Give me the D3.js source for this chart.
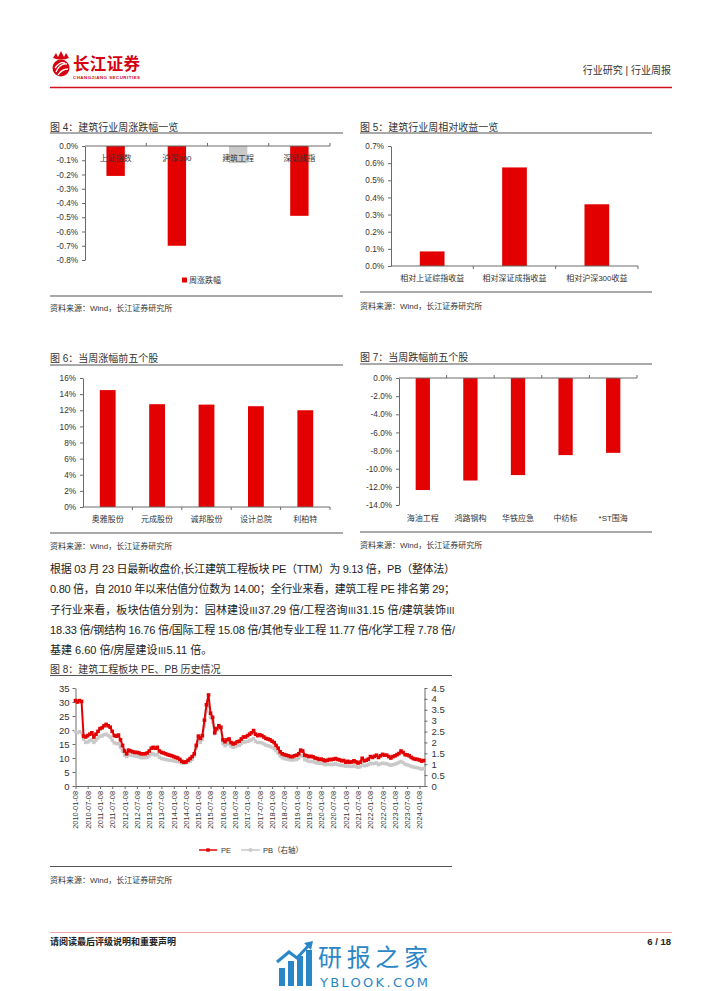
<!DOCTYPE html>
<html><head><meta charset="utf-8">
<script src="https://cdn.jsdelivr.net/npm/d3@7"></script>
<style>
html,body{margin:0;padding:0;background:#fff;}
svg{display:block;font-family:"Liberation Sans",Arial,"Noto Sans CJK SC",sans-serif;}
</style></head><body>
<svg id="page" width="702" height="991"></svg>
<script>
// ---------------- DATA ----------------
const fig4Cats = ["上证指数","沪深300","建筑工程","深证成指"];
const fig4Vals = [-0.21,-0.70,-0.12,-0.49];
const fig4Ticks = [0,-0.1,-0.2,-0.3,-0.4,-0.5,-0.6,-0.7,-0.8];

const fig5Cats = ["相对上证综指收益","相对深证成指收益","相对沪深300收益"];
const fig5Vals = [0.085,0.575,0.36];
const fig5Ticks = [0,0.1,0.2,0.3,0.4,0.5,0.6,0.7];

const fig6Cats = ["奥雅股份","元成股份","诚邦股份","设计总院","利柏特"];
const fig6Vals = [14.5,12.75,12.7,12.5,12.0];
const fig6Ticks = [0,2,4,6,8,10,12,14,16];

const fig7Cats = ["海油工程","鸿路钢构","华铁应急","中纺标","*ST围海"];
const fig7Vals = [-12.35,-11.3,-10.7,-8.5,-8.25];
const fig7Ticks = [0,-2,-4,-6,-8,-10,-12,-14];

// Fig 8: monthly readings, Jan 2010 .. Mar 2024
const seriesStart = "2010-01-08";
const peValues = [
30.5,30.0,30.5,30.2,17.8,17.5,18.0,18.5,19.0,17.5,18.5,19.5,
20.5,20.8,21.5,22.0,21.5,21.0,19.5,18.0,17.8,18.2,16.5,14.5,
12.5,11.5,12.8,12.5,12.2,12.0,12.0,11.8,11.5,11.5,11.5,11.8,
12.5,13.5,13.8,13.5,13.8,12.5,12.0,11.8,11.5,11.2,11.0,10.8,
10.5,10.2,10.0,9.5,8.8,8.5,8.6,9.2,9.8,10.5,11.5,14.5,
17.8,17.0,18.0,23.5,29.0,32.5,26.0,24.5,19.0,20.5,21.5,21.0,
16.5,15.8,16.5,16.8,15.5,15.0,15.3,15.8,16.0,16.8,17.5,17.5,
18.0,18.5,19.0,19.8,18.5,18.0,18.3,18.0,17.5,17.0,16.8,16.5,
16.0,15.5,14.5,13.5,12.2,11.5,11.2,11.0,10.8,10.5,10.5,10.8,
11.0,11.5,12.8,12.5,11.0,10.8,10.5,10.6,10.4,10.0,9.8,9.5,
9.6,9.3,9.0,9.2,9.5,9.4,9.6,9.8,9.5,9.3,9.0,9.1,
8.5,8.8,8.5,8.6,9.0,8.6,8.2,8.5,9.9,9.0,9.2,9.6,
10.5,10.2,10.6,11.0,10.2,10.8,11.3,11.0,11.0,10.5,10.0,10.5,
10.8,11.2,11.6,12.5,12.0,11.2,11.1,10.8,10.2,9.8,9.6,9.5,
9.3,8.9,9.1];
const pbValues = [
2.50,2.45,2.50,2.45,2.15,2.00,2.02,2.08,2.12,2.00,2.10,2.20,
2.28,2.30,2.36,2.38,2.32,2.25,2.10,1.98,1.95,1.95,1.78,1.60,
1.42,1.35,1.45,1.42,1.40,1.38,1.36,1.34,1.30,1.30,1.30,1.32,
1.38,1.45,1.48,1.42,1.45,1.32,1.26,1.24,1.22,1.20,1.18,1.17,
1.16,1.13,1.12,1.10,1.06,1.05,1.06,1.10,1.14,1.22,1.38,1.75,
2.05,2.00,2.15,2.75,3.45,3.90,3.15,2.95,2.40,2.55,2.70,2.65,
1.95,1.85,1.92,1.95,1.82,1.78,1.80,1.85,1.87,1.95,2.02,2.02,
2.05,2.08,2.12,2.18,2.05,2.00,2.00,1.98,1.93,1.88,1.85,1.82,
1.78,1.72,1.62,1.52,1.38,1.30,1.26,1.24,1.22,1.20,1.20,1.21,
1.22,1.28,1.40,1.38,1.22,1.18,1.13,1.13,1.12,1.08,1.06,1.04,
1.05,1.02,0.98,0.99,1.00,0.98,1.00,1.02,0.98,0.96,0.94,0.94,
0.91,0.93,0.90,0.90,0.92,0.89,0.86,0.88,0.98,0.93,0.95,0.98,
1.04,1.02,1.04,1.06,0.98,1.02,1.05,1.03,1.02,0.98,0.95,0.98,
1.00,1.04,1.08,1.13,1.08,1.00,0.97,0.94,0.90,0.87,0.85,0.84,
0.81,0.78,0.80];
const fig8XTicks = ["2010-01-08","2010-07-08","2011-01-08","2011-07-08","2012-01-08","2012-07-08",
"2013-01-08","2013-07-08","2014-01-08","2014-07-08","2015-01-08","2015-07-08","2016-01-08","2016-07-08",
"2017-01-08","2017-07-08","2018-01-08","2018-07-08","2019-01-08","2019-07-08","2020-01-08","2020-07-08",
"2021-01-08","2021-07-08","2022-01-08","2022-07-08","2023-01-08","2023-07-08","2024-01-08"];
const fig8LeftTicks = [0,5,10,15,20,25,30,35];
const fig8RightTicks = [0,0.5,1,1.5,2,2.5,3,3.5,4,4.5];

const paragraph = [
"根据 03 月 23 日最新收盘价,长江建筑工程板块 PE（TTM）为 9.13 倍，PB（整体法）",
"0.80 倍，自 2010 年以来估值分位数为 14.00；全行业来看，建筑工程 PE 排名第 29；",
"子行业来看，板块估值分别为：园林建设Ⅲ37.29 倍/工程咨询Ⅲ31.15 倍/建筑装饰Ⅲ",
"18.33 倍/钢结构 16.76 倍/国际工程 15.08 倍/其他专业工程 11.77 倍/化学工程 7.78 倍/",
"基建 6.60 倍/房屋建设Ⅲ5.11 倍。"];

// ---------------- DRAW ----------------
const RED = "#e20000", GRAY = "#c9c9c9", TXT = "#333", AX = "#6a6a6a";
const svg = d3.select("#page");
svg.append("rect").attr("width",702).attr("height",991).attr("fill","#fff");

// header
const hd = svg.append("g");
hd.append("circle").attr("cx",61).attr("cy",68).attr("r",8.5).attr("fill","#d7000f");
hd.append("path").attr("d","M56,72 q4,-9 11,-8 M55,68 q5,-7 10,-5 M58,75 q4,-6 10,-6")
  .attr("stroke","#fff").attr("stroke-width",1.3).attr("fill","none");
hd.append("path").attr("d","M53,58 l3,-5 l2,4 l3,-6 l3,6 l2,-4 l3,5 q-8,3 -16,0z").attr("fill","#d7000f");
hd.append("text").attr("x",73).attr("y",69.5).text("长江证券")
  .attr("font-size",16.5).attr("font-weight","bold").attr("fill","#d7000f")
  .attr("font-family","'Noto Sans CJK SC'").attr("textLength",67);
hd.append("text").attr("x",73).attr("y",78.5).text("CHANGJIANG SECURITIES")
  .attr("font-size",4.4).attr("font-weight","bold").attr("fill","#d7000f").attr("textLength",67);
hd.append("text").attr("x",671).attr("y",74).attr("text-anchor","end").text("行业研究 | 行业周报")
  .attr("font-size",10).attr("fill",TXT);
hd.append("line").attr("x1",50).attr("x2",672).attr("y1",87.5).attr("y2",87.5)
  .attr("stroke","#d0101b").attr("stroke-width",1.6);

function barChart(o){
  const g = svg.append("g");
  g.append("text").attr("x",o.left).attr("y",o.titleY).text(o.title).attr("font-size",10).attr("fill",TXT);
  g.append("line").attr("x1",o.left).attr("x2",o.right).attr("y1",o.ruleY).attr("y2",o.ruleY)
    .attr("stroke","#555").attr("stroke-width",1.2);
  const x = d3.scaleBand().domain(o.cats).range([o.ax0,o.ax1]).paddingInner(o.pad).paddingOuter(o.pad/2);
  const y = d3.scaleLinear().domain(o.yDomain).range([o.yTop,o.yBot]);
  g.selectAll("rect.bar").data(o.vals).join("rect")
    .attr("x",(d,i)=>x(o.cats[i])).attr("width",x.bandwidth())
    .attr("y",d=>Math.min(y(0),y(d))).attr("height",d=>Math.abs(y(d)-y(0)))
    .attr("fill",(d,i)=>o.colors ? o.colors[i] : RED);
  const ya = g.append("g").attr("transform",`translate(${o.ax0},0)`)
    .call(d3.axisLeft(y).tickValues(o.ticks).tickSize(3).tickSizeOuter(0).tickPadding(4).tickFormat(o.fmt));
  ya.select(".domain").attr("stroke",AX);
  ya.selectAll(".tick line").attr("stroke",AX);
  ya.selectAll("text").attr("font-size",8.2).attr("fill",TXT).attr("font-family","'Liberation Sans',Arial");
  const yz = y(0);
  g.append("line").attr("x1",o.ax0).attr("x2",o.ax1).attr("y1",yz).attr("y2",yz).attr("stroke",AX);
  const step = x.step();
  g.selectAll("line.bt").data(d3.range(1,o.cats.length+1)).join("line")
    .attr("x1",i=>o.ax0+i*step).attr("x2",i=>o.ax0+i*step)
    .attr("y1",yz).attr("y2",yz+o.tickDir*3).attr("stroke",AX);
  g.selectAll("text.cat").data(o.cats).join("text")
    .attr("x",d=>x(d)+x.bandwidth()/2).attr("y",o.labelY).attr("dy","0.35em")
    .attr("text-anchor","middle").text(d=>d).attr("font-size",8).attr("fill",TXT);
  if(o.legend){
    g.append("rect").attr("x",o.legend.x).attr("y",o.legend.y-2.5).attr("width",5).attr("height",5).attr("fill",RED);
    g.append("text").attr("x",o.legend.x+7).attr("y",o.legend.y).attr("dy","0.35em")
      .text(o.legend.text).attr("font-size",8).attr("fill",TXT);
  }
  g.append("line").attr("x1",o.left).attr("x2",o.right).attr("y1",o.bottomY).attr("y2",o.bottomY)
    .attr("stroke","#555").attr("stroke-width",1.2);
  g.append("text").attr("x",o.left).attr("y",o.srcY).attr("dy","0.35em")
    .text("资料来源：Wind，长江证券研究所").attr("font-size",8).attr("fill",TXT);
}

barChart({title:"图 4：建筑行业周涨跌幅一览",left:50,right:343,titleY:131,ruleY:133,
  ax0:85,ax1:330,yTop:146,yBot:260,yDomain:[0,-0.8],cats:fig4Cats,vals:fig4Vals,
  colors:[RED,RED,GRAY,RED],pad:0.7,ticks:fig4Ticks,fmt:d=>(d===0?"0.0":d.toFixed(1))+"%",
  tickDir:-1,labelY:158,legend:{x:182,y:280,text:"周涨跌幅"},bottomY:296,srcY:308});

barChart({title:"图 5：建筑行业周相对收益一览",left:360,right:652,titleY:131,ruleY:133,
  ax0:391,ax1:638,yTop:146,yBot:266,yDomain:[0.7,0],cats:fig5Cats,vals:fig5Vals,
  pad:0.7,ticks:fig5Ticks,fmt:d=>d.toFixed(1)+"%",
  tickDir:1,labelY:278,bottomY:292,srcY:306});

barChart({title:"图 6：当周涨幅前五个股",left:50,right:343,titleY:362,ruleY:365,
  ax0:83,ax1:330,yTop:378,yBot:507,yDomain:[16,0],cats:fig6Cats,vals:fig6Vals,
  pad:0.68,ticks:fig6Ticks,fmt:d=>d+"%",
  tickDir:1,labelY:519,bottomY:533,srcY:546});

barChart({title:"图 7：当周跌幅前五个股",left:360,right:652,titleY:361,ruleY:364,
  ax0:399,ax1:637,yTop:378,yBot:505,yDomain:[0,-14],cats:fig7Cats,vals:fig7Vals,
  pad:0.7,ticks:fig7Ticks,fmt:d=>(d===0?"0.0":d.toFixed(1))+"%",
  tickDir:-1,labelY:518,bottomY:532,srcY:545});

// paragraph
const pg = svg.append("g");
paragraph.forEach((line,i)=>{
  const t = pg.append("text").attr("x",50).attr("y",573+i*20.3)
    .attr("font-size",11).attr("fill","#222");
  // render the roman numeral with the CJK font (narrow glyph)
  line.split(/(Ⅲ)/).forEach(part=>{
    if(!part) return;
    const s = t.append("tspan").text(part);
    if(part==="Ⅲ") s.attr("font-family","'Noto Sans CJK SC'").attr("font-size",9);
  });
  if(i<paragraph.length-1) t.attr("textLength",405).attr("lengthAdjust","spacing");
});

// figure 8
const g8 = svg.append("g");
g8.append("text").attr("x",50).attr("y",673).text("图 8：建筑工程板块 PE、PB 历史情况").attr("font-size",10).attr("fill",TXT);
g8.append("line").attr("x1",50).attr("x2",452).attr("y1",675.5).attr("y2",675.5).attr("stroke","#555").attr("stroke-width",1.2);
const parse = d3.timeParse("%Y-%m-%d");
const t0 = parse(seriesStart);
const pe = peValues.map((v,i)=>({date:d3.timeMonth.offset(t0,i),v}));
const pb = pbValues.map((v,i)=>({date:d3.timeMonth.offset(t0,i),v}));
const x8 = d3.scaleTime().domain([t0, parse("2024-03-22")]).range([75.5,424.5]);
const yL = d3.scaleLinear().domain([0,35]).range([786,688]);
const yR = d3.scaleLinear().domain([0,4.5]).range([786,688]);

function styleAxis(a,fs){
  a.select(".domain").attr("stroke",AX);
  a.selectAll(".tick line").attr("stroke",AX);
  a.selectAll("text").attr("font-size",fs).attr("fill",TXT).attr("font-family","'Liberation Sans',Arial");
}
const axL = g8.append("g").attr("transform","translate(75.5,0)")
  .call(d3.axisLeft(yL).tickValues(fig8LeftTicks).tickSize(3).tickSizeOuter(0).tickPadding(3));
styleAxis(axL,9.5);
const axR = g8.append("g").attr("transform","translate(424.5,0)")
  .call(d3.axisRight(yR).tickValues(fig8RightTicks).tickSize(3).tickSizeOuter(0).tickPadding(4).tickFormat(d=>String(d)));
styleAxis(axR,9.5);
const axB = g8.append("g").attr("transform","translate(0,786)")
  .call(d3.axisBottom(x8).tickValues(fig8XTicks.map(parse)).tickSize(3).tickSizeOuter(0).tickFormat(d3.timeFormat("%Y-%m-%d")));
styleAxis(axB,7.4);
axB.selectAll("text").attr("transform","rotate(-90)").attr("x",-5).attr("y",0).attr("dy","0.33em").style("text-anchor","end");

function drawSeries(data,y,color,sz){
  g8.append("path").datum(data).attr("fill","none").attr("stroke",color).attr("stroke-width",2)
    .attr("stroke-linejoin","round").attr("d",d3.line().x(d=>x8(d.date)).y(d=>y(d.v)));
  g8.append("g").selectAll("rect").data(data).join("rect")
    .attr("x",d=>x8(d.date)-sz/2).attr("y",d=>y(d.v)-sz/2).attr("width",sz).attr("height",sz).attr("fill",color);
}
drawSeries(pb,yR,GRAY,3.4);
drawSeries(pe,yL,RED,3.6);

// legend
const lg = g8.append("g");
[[199,217,RED,"PE",221],[241,260,GRAY,"PB（右轴）",263]].forEach(([a,b,c,t,tx])=>{
  lg.append("line").attr("x1",a).attr("x2",b).attr("y1",850).attr("y2",850).attr("stroke",c).attr("stroke-width",1.5);
  lg.append("rect").attr("x",(a+b)/2-1.7).attr("y",848.3).attr("width",3.4).attr("height",3.4).attr("fill",c);
  lg.append("text").attr("x",tx).attr("y",850).attr("dy","0.35em").text(t).attr("font-size",7.5).attr("fill",TXT);
});
g8.append("line").attr("x1",50).attr("x2",452).attr("y1",866.5).attr("y2",866.5).attr("stroke","#555").attr("stroke-width",1.2);
g8.append("text").attr("x",50).attr("y",880).attr("dy","0.35em").text("资料来源：Wind，长江证券研究所").attr("font-size",8).attr("fill",TXT);

// footer
const ft = svg.append("g");
ft.append("line").attr("x1",50).attr("x2",672).attr("y1",932.5).attr("y2",932.5).attr("stroke","#efa3a3").attr("stroke-width",1);
ft.append("text").attr("x",50).attr("y",942).attr("dy","0.35em").text("请阅读最后评级说明和重要声明")
  .attr("font-size",9).attr("font-weight","bold").attr("fill","#222");
ft.append("text").attr("x",671).attr("y",942).attr("dy","0.35em").attr("text-anchor","end").text("6 / 18")
  .attr("font-size",9.5).attr("font-weight","bold").attr("fill","#222");
// watermark
const wm = svg.append("g").attr("fill","#2b86c8");
[[279,968,6],[288,961,6],[297,956,6],[306,950,6]].forEach(([x,y,w])=>{
  wm.append("rect").attr("x",x).attr("y",y).attr("width",w).attr("height",986-y);
});
wm.append("path").attr("d","M277,962 L289,952 L297,958 L310,944").attr("stroke","#2b86c8").attr("stroke-width",3).attr("fill","none");
wm.append("path").attr("d","M304,943 L313,941 L311,950z");
wm.append("text").attr("x",318).attr("y",966).text("研报之家").attr("font-size",24)
  .attr("font-family","'Noto Sans CJK SC'").attr("textLength",110);
wm.append("text").attr("x",320).attr("y",987).text("YBLOOK.COM").attr("font-size",13)
  .attr("font-family","'DejaVu Sans'").attr("textLength",108);
</script>
</body></html>
